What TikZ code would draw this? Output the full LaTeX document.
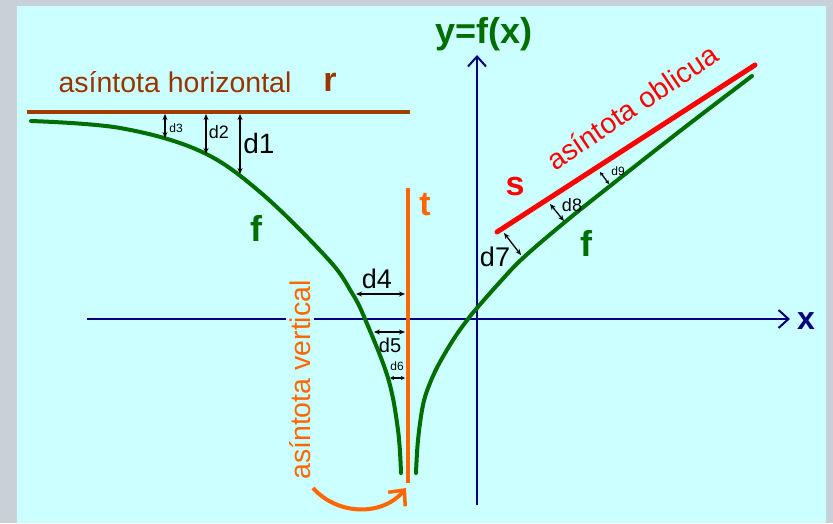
\documentclass[tikz,border=0pt]{standalone}
\usepackage{fontspec}
\setmainfont{Liberation Sans}
\usetikzlibrary{arrows.meta}
\definecolor{bggray}{HTML}{C8D0D8}
\definecolor{panel}{HTML}{CCFFFF}
\definecolor{brownr}{HTML}{A03C00}
\definecolor{brtext}{HTML}{993300}
\definecolor{fgreen}{HTML}{006E00}
\definecolor{orng}{HTML}{FF6600}
\definecolor{navy}{HTML}{000080}
\tikzset{
  dist/.style={black, line width=1.3pt, {Stealth[length=6pt,width=5pt]}-{Stealth[length=6pt,width=5pt]}},
  axisline/.style={navy, line width=2.5pt, -{Straight Barb[length=10pt,width=18pt,line width=2pt]}},
  fcurve/.style={fgreen, line width=4pt, line cap=round},
  lbl/.style={inner sep=0pt, font=\fontsize{#1}{#1}\selectfont},
  blbl/.style={inner sep=0pt, font=\fontsize{#1}{#1}\selectfont\bfseries},
}
\begin{document}
\begin{tikzpicture}[x=1pt,y=-1pt]
\useasboundingbox (0,0) rectangle (833,523);
\fill[bggray] (0,0) rectangle (833,523);
\fill[panel] (17,6) rectangle (826,523);

% axes
\coordinate (xs) at (87,319);
\coordinate (xe) at (790,319);
\coordinate (ys) at (477,505);
\coordinate (ye) at (477,55);
\draw[axisline] (xs) -- (xe);
\draw[axisline] (ys) -- (ye);
\node[blbl=32, text=navy] (xl) at (806,321) {x};
\node[blbl=36, text=fgreen] (yl) at (484,34) {y=f(x)};

% horizontal asymptote
\coordinate (r1) at (27,112);
\coordinate (r2) at (410,112);
\draw[brownr, line width=4pt] (r1) -- (r2);
\node[lbl=28.5, text=brtext] (rtxt) at (175,82) {asíntota horizontal};
\node[blbl=34, text=brtext] (rl) at (330,82) {r};

% vertical asymptote
\coordinate (t1) at (408,188);
\coordinate (t2) at (408,483);
\draw[orng, line width=4pt] (t1) -- (t2);
\node[blbl=34, text=orng] (tl) at (425,205) {t};
\node[lbl=28.5, text=orng, rotate=90, fill=panel, inner ysep=3pt] (vtxt) at (300,380) {asíntota vertical};
\coordinate (a1) at (313,488);
\coordinate (a2) at (406,488);
\draw[orng, line width=4pt, -{Straight Barb[length=12pt,width=22pt,line width=3.5pt]}]
  (a1) .. controls (338,516) and (383,516) .. (a2);

% oblique asymptote
\coordinate (s1) at (497,232);
\coordinate (s2) at (755,65);
\draw[red, line width=5pt, line cap=round] (s1) -- (s2);
\node[blbl=34, text=red] (sl) at (515,187) {s};
\node[lbl=28.5, text=red, rotate=34] (otxt) at (632,107) {asíntota oblicua};

% function branches
\draw[fcurve] plot[smooth, tension=0.6] coordinates {(31,121) (120,128) (200,151) (260,192) (328,259) (352,293) (365,319) (388,378) (398,430) (401,473)};
\draw[fcurve] plot[smooth, tension=0.6] coordinates {(416,473) (418,440) (423,405) (430,383) (440,362) (455,337) (468,319) (477,308) (500,282) (523,258) (565,222) (610,186) (680,131) (752,76)};
\node[blbl=36, text=fgreen] (f1) at (256,228) {f};
\node[blbl=36, text=fgreen] (f2) at (586,243) {f};

% distances to r
\coordinate (d1a) at (240,114); \coordinate (d1b) at (240,174);
\coordinate (d2a) at (206,114); \coordinate (d2b) at (206,154);
\coordinate (d3a) at (165,114); \coordinate (d3b) at (165,138);
\draw[dist] (d1a) -- (d1b);
\draw[dist] (d2a) -- (d2b);
\draw[dist] (d3a) -- (d3b);
\node[lbl=28] (d1l) at (259,143) {d1};
\node[lbl=18] (d2l) at (219,132) {d2};
\node[lbl=12] (d3l) at (176,128) {d3};

% distances to t
\coordinate (d4a) at (356,294); \coordinate (d4b) at (405,294);
\coordinate (d5a) at (374,332); \coordinate (d5b) at (405,332);
\coordinate (d6a) at (390,378); \coordinate (d6b) at (405,378);
\draw[dist] (d4a) -- (d4b);
\draw[dist] (d5a) -- (d5b);
\draw[dist, {Stealth[length=4pt,width=4pt]}-{Stealth[length=4pt,width=4pt]}] (d6a) -- (d6b);
\node[lbl=27] (d4l) at (377,279) {d4};
\node[lbl=20] (d5l) at (390,345) {d5};
\node[lbl=12] (d6l) at (397,366) {d6};

% distances to s
\coordinate (d7a) at (504,233); \coordinate (d7b) at (521,255);
\coordinate (d8a) at (550,204); \coordinate (d8b) at (564,221);
\coordinate (d9a) at (600,172); \coordinate (d9b) at (609,184);
\draw[dist] (d7a) -- (d7b);
\draw[dist] (d8a) -- (d8b);
\draw[dist, {Stealth[length=4pt,width=4pt]}-{Stealth[length=4pt,width=4pt]}] (d9a) -- (d9b);
\node[lbl=27] (d7l) at (495,257) {d7};
\node[lbl=18] (d8l) at (572,205) {d8};
\node[lbl=12] (d9l) at (618,171) {d9};
\end{tikzpicture}
\end{document}
